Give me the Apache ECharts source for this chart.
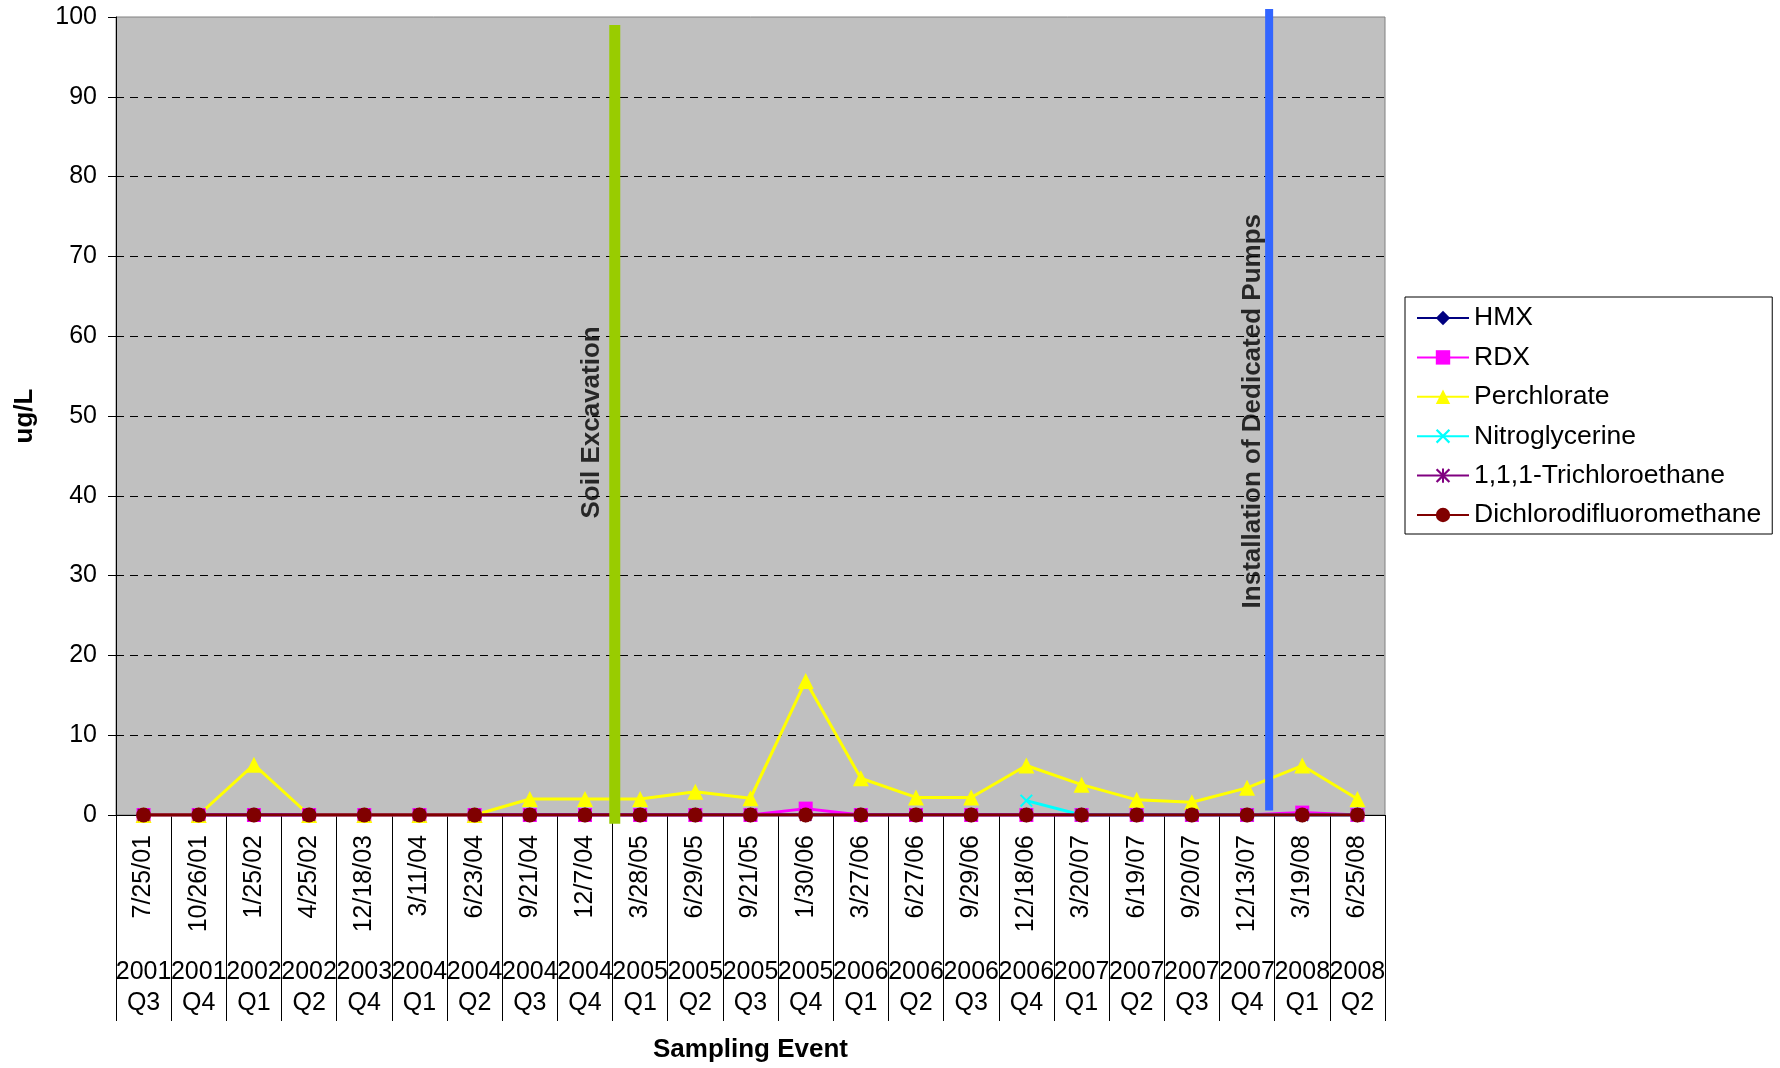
<!DOCTYPE html>
<html>
<head>
<meta charset="utf-8">
<title>Sampling Event Concentrations</title>
<script src="https://cdn.jsdelivr.net/npm/echarts@6/dist/echarts.min.js"></script>
<style>
  html, body { margin: 0; padding: 0; background: #ffffff; }
  #chart { width: 1780px; height: 1068px; }
</style>
</head>
<body>
<div id="chart"></div>
<script>
// Sampling events (date and year/quarter) along the category axis
const sampleDates = ['7/25/01', '10/26/01', '1/25/02', '4/25/02', '12/18/03', '3/11/04', '6/23/04',
  '9/21/04', '12/7/04', '3/28/05', '6/29/05', '9/21/05', '1/30/06', '3/27/06', '6/27/06', '9/29/06',
  '12/18/06', '3/20/07', '6/19/07', '9/20/07', '12/13/07', '3/19/08', '6/25/08'];
const sampleYears = ['2001', '2001', '2002', '2002', '2003', '2004', '2004', '2004', '2004', '2005', '2005',
  '2005', '2005', '2006', '2006', '2006', '2006', '2007', '2007', '2007', '2007', '2008', '2008'];
const sampleQuarters = ['Q3', 'Q4', 'Q1', 'Q2', 'Q4', 'Q1', 'Q2', 'Q3', 'Q4', 'Q1', 'Q2',
  'Q3', 'Q4', 'Q1', 'Q2', 'Q3', 'Q4', 'Q1', 'Q2', 'Q3', 'Q4', 'Q1', 'Q2'];

// Concentrations, ug/L
const hmx = [0, 0, 0, 0, 0, 0, 0, 0, 0, 0, 0, 0, 0, 0, 0, 0, 0, 0, 0, 0, 0, 0, 0];
const rdx = [0, 0, 0, 0, 0, 0, 0, 0, 0, 0, 0, 0, 0.8, 0, 0, 0, 0, 0, 0, 0, 0, 0.3, 0];
const perchlorate = [0, 0, 6.3, 0, 0, 0, 0, 2.0, 2.0, 2.0, 2.9, 2.1, 16.8, 4.6, 2.2, 2.2,
  6.2, 3.8, 1.9, 1.6, 3.4, 6.2, 2.0];
const nitroglycerine = [null, null, null, null, null, null, null, null, null, null, null, null,
  null, null, null, null, 1.8, 0, 0, 0, 0, 0, 0];
const trichloroethane = [0, 0, 0, 0, 0, 0, 0, 0, 0, 0, 0, 0, 0, 0, 0, 0, 0, 0, 0, 0, 0, 0, 0];
const dichlorodifluoromethane = [0, 0, 0, 0, 0, 0, 0, 0, 0, 0, 0, 0, 0, 0, 0, 0, 0, 0, 0, 0, 0, 0, 0];

// Y axis scale
const yMin = 0, yMax = 100, yStep = 10;

// Site events, positioned in sampling-event units (0 = first event)
const eventNames = ['Soil Excavation', 'Installation of Dedicated Pumps'];
const eventPositions = [8.54, 20.4];
const eventLows = [-1.1, 0.56];
const eventHighs = [99.0, 101.0];
const eventLabelLevels = [49.2, 50.6];

const FONT = '"Liberation Sans", Arial, Helvetica, sans-serif';
const asteriskPath = 'path://M0,1.1L1.1,0L5,3.9L8.9,0L10,1.1L6.1,5L10,8.9L8.9,10L5,6.1L1.1,10L0,8.9L3.9,5Z' +
  'M4.3,0L5.7,0L5.7,10L4.3,10Z';
const crossPath = 'path://M0,1.1L1.1,0L5,3.9L8.9,0L10,1.1L6.1,5L10,8.9L8.9,10L5,6.1L1.1,10L0,8.9L3.9,5Z';

function analyte(name, data, color, symbol, size) {
  return {
    name: name,
    type: 'line',
    xAxisIndex: 0,
    yAxisIndex: 0,
    data: data,
    symbol: symbol,
    symbolSize: size,
    showSymbol: true,
    connectNulls: false,
    lineStyle: { color: color, width: 3 },
    itemStyle: { color: color },
    emphasis: { disabled: true }
  };
}

const eventColors = ['#99CC00', '#3366FF'];
const eventWidths = [11, 8];
const eventLabelGaps = [23, 16];

const eventSeries = [];
eventNames.forEach(function (name, i) {
  eventSeries.push({
    name: name,
    type: 'line',
    xAxisIndex: 2,
    yAxisIndex: 0,
    clip: false,
    symbol: 'none',
    data: [[eventPositions[i], eventLows[i]], [eventPositions[i], eventHighs[i]]],
    lineStyle: { color: eventColors[i], width: eventWidths[i] },
    emphasis: { disabled: true },
    silent: true,
    z: 5
  });
  eventSeries.push({
    name: name + ' label',
    type: 'scatter',
    xAxisIndex: 2,
    yAxisIndex: 0,
    symbolSize: 0,
    data: [[eventPositions[i], eventLabelLevels[i]]],
    label: {
      show: true,
      formatter: name,
      position: 'left',
      distance: eventLabelGaps[i],
      rotate: 90,
      align: 'center',
      verticalAlign: 'middle',
      fontFamily: FONT,
      fontSize: 26,
      fontWeight: 'bold',
      color: '#000'
    },
    silent: true,
    z: 6
  });
});

const chart = echarts.init(document.getElementById('chart'), null, { renderer: 'canvas' });

chart.setOption({
  animation: false,
  backgroundColor: '#ffffff',
  textStyle: { fontFamily: FONT },
  grid: {
    left: 116,
    top: 17,
    width: 1269,
    height: 798,
    show: true,
    backgroundColor: '#C0C0C0',
    borderColor: '#808080',
    borderWidth: 1,
    containLabel: false,
    outerBoundsMode: 'none'
  },
  legend: {
    orient: 'vertical',
    left: 1405,
    top: 297,
    padding: [6, 11, 4, 11],
    itemWidth: 52,
    itemHeight: 18,
    itemGap: 9.4,
    backgroundColor: '#ffffff',
    borderColor: '#000000',
    borderWidth: 1,
    selectedMode: false,
    data: ['HMX', 'RDX', 'Perchlorate', 'Nitroglycerine', '1,1,1-Trichloroethane', 'Dichlorodifluoromethane'],
    textStyle: { fontFamily: FONT, fontSize: 26.5, lineHeight: 30, color: '#000' }
  },
  xAxis: [
    {
      type: 'category',
      data: sampleDates,
      boundaryGap: true,
      position: 'bottom',
      name: 'Sampling Event',
      nameLocation: 'middle',
      nameGap: 222,
      nameMoveOverlap: false,
      nameTextStyle: { fontFamily: FONT, fontSize: 26, fontWeight: 'bold', color: '#000' },
      axisLine: { show: true, onZero: false, lineStyle: { color: '#000', width: 1 } },
      axisTick: { show: true, interval: 0, alignWithLabel: false, length: 206, lineStyle: { color: '#000', width: 1 } },
      axisLabel: { interval: 0, rotate: 90, margin: 20, fontFamily: FONT, fontSize: 25, color: '#000' },
      splitLine: { show: false }
    },
    {
      type: 'category',
      data: sampleYears.map(function (y, i) { return y + '\n' + sampleQuarters[i]; }),
      boundaryGap: true,
      position: 'bottom',
      axisLine: { show: false, onZero: false },
      axisTick: { show: false },
      axisLabel: { interval: 0, margin: 142, lineHeight: 31, fontFamily: FONT, fontSize: 25, color: '#000' },
      splitLine: { show: false }
    },
    {
      type: 'value',
      min: -0.5,
      max: sampleDates.length - 0.5,
      show: false,
      position: 'bottom',
      axisLine: { onZero: false }
    }
  ],
  yAxis: [{
    type: 'value',
    min: yMin,
    max: yMax,
    interval: yStep,
    position: 'left',
    name: 'ug/L',
    nameLocation: 'middle',
    nameGap: 78,
    nameRotate: 90,
    nameMoveOverlap: false,
    nameTextStyle: { fontFamily: FONT, fontSize: 26, fontWeight: 'bold', color: '#000' },
    axisLine: { show: true, onZero: false, lineStyle: { color: '#000', width: 1 } },
    axisTick: { show: true, length: 8, lineStyle: { color: '#000', width: 1 } },
    axisLabel: { margin: 19, fontFamily: FONT, fontSize: 25, color: '#000' },
    splitLine: {
      show: true,
      showMinLine: false,
      showMaxLine: false,
      lineStyle: { color: '#000', width: 1, type: [8, 6] }
    }
  }],
  series: [
    analyte('HMX', hmx, '#000080', 'diamond', 15),
    analyte('RDX', rdx, '#FF00FF', 'rect', 14),
    analyte('Perchlorate', perchlorate, '#FFFF00', 'triangle', 16),
    analyte('Nitroglycerine', nitroglycerine, '#00FFFF', crossPath, 13),
    analyte('1,1,1-Trichloroethane', trichloroethane, '#800080', asteriskPath, 13),
    analyte('Dichlorodifluoromethane', dichlorodifluoromethane, '#800000', 'circle', 15)
  ].concat(eventSeries)
});
</script>
</body>
</html>
